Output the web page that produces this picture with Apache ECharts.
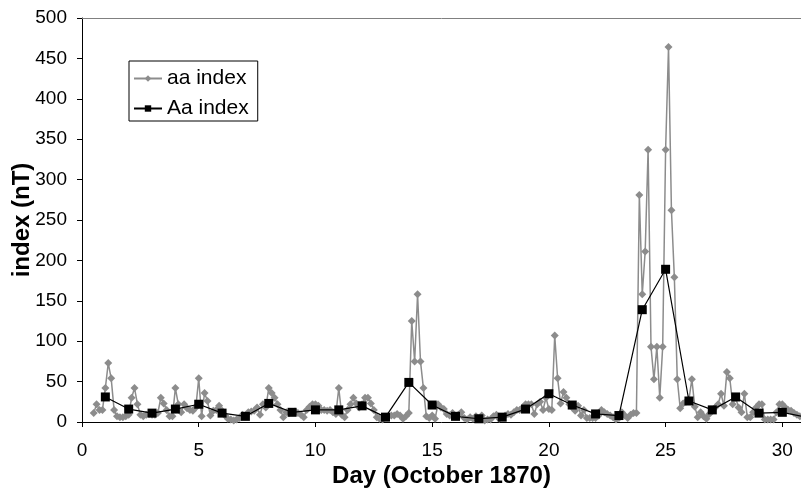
<!DOCTYPE html>
<html>
<head>
<meta charset="utf-8">
<script src="https://cdn.jsdelivr.net/npm/echarts@6/dist/echarts.min.js"></script>
<style>
  html, body { margin: 0; padding: 0; background: #fff; }
  #chart { width: 801px; height: 490px; }
</style>
</head>
<body>
<div id="chart"></div>
<script>
// 3-hourly aa index (nT), first sample at day 0.5, one value every 1/8 day
const aaStart = 0.5;
const aaStep = 0.125;
const aaValues = [
  11, 22, 15, 15,
  42, 73, 54, 15, 7, 6, 6, 7,
  9, 30, 42, 22, 9, 7, 9, 10,
  9, 9, 11, 30, 23, 15, 7, 7,
  42, 22, 12, 22, 17, 15, 14, 18,
  54, 7, 36, 26, 8, 14, 15, 20,
  14, 8, 4, 3, 2, 3, 5, 9,
  7, 12, 13, 14, 18, 9, 22, 18,
  42, 36, 30, 22, 15, 6, 12, 11,
  12, 13, 11, 9, 6, 15, 19, 22,
  22, 20, 15, 15, 14, 15, 12, 10,
  42, 9, 6, 15, 22, 30, 23, 18,
  22, 30, 30, 23, 15, 6, 4, 3,
  6, 7, 8, 8, 10, 8, 4, 7,
  11, 125, 75, 158, 75, 42, 7, 5,
  8, 4, 22, 18, 16, 10, 8, 11,
  7, 9, 12, 5, 3, 6, 4, 7,
  4, 8, 2, 3, 3, 7, 9, 4,
  6, 8, 10, 9, 12, 15, 15, 18,
  22, 22, 22, 10, 22, 25, 15, 30,
  16, 15, 107, 54, 23, 37, 30, 22,
  18, 14, 20, 8, 15, 5, 5, 5,
  5, 8, 15, 12, 10, 8, 6, 3,
  5, 12, 8, 5, 9, 11, 11, 281,
  158, 211, 337, 93, 53, 93, 30, 93,
  337, 464, 262, 179, 53, 17, 23, 25,
  28, 53, 19, 6, 12, 7, 4, 10,
  15, 18, 22, 35, 20, 62, 54, 22,
  30, 18, 12, 35, 6, 6, 12, 18,
  22, 22, 3, 3, 3, 3, 12, 22,
  22, 18, 15, 14, 11, 9, 7
];

// daily Aa index (nT), days 1..31
const AaDays = [1, 2, 3, 4, 5, 6, 7, 8, 9, 10, 11, 12, 13, 14, 15, 16,
  17, 18, 19, 20, 21, 22, 23, 24, 25, 26, 27, 28, 29, 30, 31];
const AaValues = [31, 16, 11, 16, 22, 11, 7, 23, 12, 15, 15, 20, 6, 49, 21, 7,
  4, 6, 16, 35, 21, 10, 8, 139, 189, 26, 15, 31, 11, 12, 6];

const xTicks = [0, 5, 10, 15, 20, 25, 30];
const yTicks = [0, 50, 100, 150, 200, 250, 300, 350, 400, 450, 500];

const aaData = aaValues.map((v, i) => [aaStart + i * aaStep, v]);
const AaData = AaDays.map((d, i) => [d, AaValues[i]]);

const font = 'Liberation Sans, Arial, Helvetica, sans-serif';
const chart = echarts.init(document.getElementById('chart'), null, { renderer: 'canvas' });

const xMax = 30.8;

chart.setOption({
  animation: false,
  backgroundColor: '#fff',
  grid: {
    left: 82, right: 0, top: 18, bottom: 68,
    containLabel: false, outerBoundsMode: 'none'
  },
  legend: {
    orient: 'vertical',
    left: 129, top: 61,
    borderColor: '#000', borderWidth: 1,
    padding: [7, 9, 2, 4],
    itemGap: 9,
    itemWidth: 28, itemHeight: 8,
    textStyle: { fontFamily: font, fontSize: 21, color: '#000' },
    data: ['aa index', 'Aa index']
  },
  xAxis: [
    {
      type: 'value',
      min: xTicks[0], max: xMax, interval: 5,
      name: 'Day (October 1870)',
      nameLocation: 'middle', nameGap: 42, nameMoveOverlap: false,
      nameTextStyle: { fontFamily: font, fontSize: 24, fontWeight: 'bold', color: '#000' },
      axisLine: { lineStyle: { color: '#000', width: 1 } },
      axisTick: { show: true, length: 5, inside: false, lineStyle: { color: '#000' } },
      axisLabel: {
        fontFamily: font, fontSize: 19, color: '#000', margin: 19,
        showMaxLabel: false,
        formatter: v => (xTicks.indexOf(v) >= 0 ? String(v) : '')
      },
      splitLine: { show: false }
    },
    {
      // plot-area frame along the top edge
      type: 'value', position: 'top',
      min: xTicks[0], max: xMax,
      axisLine: { show: true, onZero: false, lineStyle: { color: '#808080', width: 1 } },
      axisTick: { show: false },
      axisLabel: { show: false },
      splitLine: { show: false }
    }
  ],
  yAxis: {
    type: 'value',
    min: yTicks[0], max: yTicks[yTicks.length - 1], interval: 50,
    name: 'index (nT)',
    nameLocation: 'middle', nameGap: 48, nameMoveOverlap: false,
    nameTextStyle: { fontFamily: font, fontSize: 24, fontWeight: 'bold', color: '#000' },
    axisLine: { show: true, lineStyle: { color: '#000', width: 1 } },
    axisTick: { show: true, length: 5, inside: false, lineStyle: { color: '#000' } },
    axisLabel: { fontFamily: font, fontSize: 19, color: '#000', margin: 15 },
    splitLine: { show: false }
  },
  series: [
    {
      name: 'aa index',
      type: 'line',
      data: aaData,
      clip: true,
      symbol: 'diamond',
      symbolSize: 8,
      itemStyle: { color: '#8c8c8c' },
      lineStyle: { color: '#8c8c8c', width: 1.5 },
      z: 2
    },
    {
      name: 'Aa index',
      type: 'line',
      data: AaData,
      clip: true,
      symbol: 'rect',
      symbolSize: 9,
      itemStyle: { color: '#000' },
      lineStyle: { color: '#000', width: 1.2 },
      z: 3
    }
  ]
});
</script>
</body>
</html>
